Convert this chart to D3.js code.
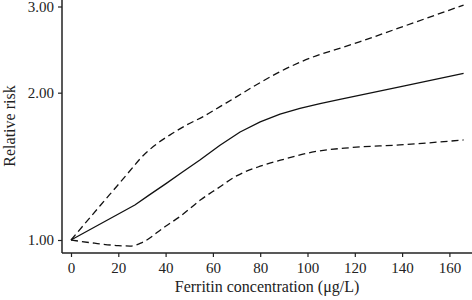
<!DOCTYPE html>
<html><head><meta charset="utf-8">
<script src="https://cdn.jsdelivr.net/npm/d3@7"></script>
<style>html,body{margin:0;padding:0;background:#fff;} svg{display:block;}</style>
</head><body>
<svg id="c" width="472" height="300"></svg>
<script>
const xTicks = [0, 20, 40, 60, 80, 100, 120, 140, 160];
const yTicks = [1, 2, 3];
const rrX = [0, 27, 33, 40, 47, 54.5, 63, 71.5, 80, 88.4, 96.8, 105.3, 113.7, 140, 166];
const rrY = [1.0, 1.179, 1.235, 1.302, 1.375, 1.457, 1.562, 1.662, 1.743, 1.808, 1.857, 1.90, 1.937, 2.06, 2.19];
const upX = [0, 12.3, 20.7, 26.3, 29.2, 34.8, 41.9, 48.9, 55.9, 63, 70.1, 77.1, 87, 97, 122, 145, 166];
const upY = [1.0, 1.175, 1.31, 1.41, 1.465, 1.552, 1.640, 1.718, 1.787, 1.873, 1.963, 2.058, 2.19, 2.31, 2.54, 2.78, 3.02];
const loX = [0, 10, 20, 25, 30, 40, 46, 55, 62, 70, 80, 90, 103, 118, 139, 166];
const loY = [1.0, 0.985, 0.974, 0.972, 0.988, 1.067, 1.116, 1.21, 1.275, 1.352, 1.415, 1.462, 1.515, 1.544, 1.564, 1.601];

const svg = d3.select("#c");
const font = "'Liberation Serif','Times New Roman',serif";
const x = d3.scaleLinear().domain([0, 160]).range([71, 449.4]);
const y = d3.scaleLog().domain([1, 3]).range([240, 6.5]);
const left = 62, bottom = 253;

const gx = svg.append("g").attr("transform", `translate(0,${bottom})`)
  .call(d3.axisBottom(x).tickValues(xTicks).tickSize(4).tickPadding(5).tickFormat(d3.format("d")));
gx.select(".domain").remove();
const gy = svg.append("g").attr("transform", `translate(${left},0)`)
  .call(d3.axisLeft(y).tickValues(yTicks).tickSize(4).tickPadding(4).tickFormat(d3.format(".2f")));
gy.select(".domain").remove();
svg.selectAll(".tick line").attr("stroke", "#222").attr("stroke-width", 1.2);
svg.selectAll(".tick text").attr("font-family", font).attr("font-size", 15).attr("fill", "#222");

svg.append("line").attr("x1", left).attr("x2", left).attr("y1", 0).attr("y2", bottom)
  .attr("stroke", "#222").attr("stroke-width", 1.5);
svg.append("line").attr("x1", left).attr("x2", 472).attr("y1", bottom).attr("y2", bottom)
  .attr("stroke", "#222").attr("stroke-width", 1.5);

const smooth = d3.line().x(d => x(d[0])).y(d => y(d[1])).curve(d3.curveMonotoneX);
const straight = d3.line().x(d => x(d[0])).y(d => y(d[1])).curve(d3.curveLinear);
const mk = (xs, ys) => xs.map((v, i) => [v, ys[i]]);
svg.append("path").attr("d", smooth(mk(upX, upY))).attr("fill", "none").attr("stroke", "#111")
  .attr("stroke-width", 1.3).attr("stroke-dasharray", "7,4");
svg.append("path").attr("d", smooth(mk(loX, loY))).attr("fill", "none").attr("stroke", "#111")
  .attr("stroke-width", 1.3).attr("stroke-dasharray", "7,4");
svg.append("path").attr("d", straight(mk(rrX, rrY))).attr("fill", "none").attr("stroke", "#111")
  .attr("stroke-width", 1.3).attr("stroke-linejoin", "round");

svg.append("text").attr("x", 267).attr("y", 292).attr("text-anchor", "middle")
  .attr("font-family", font).attr("font-size", 16).attr("fill", "#222")
  .text("Ferritin concentration (μg/L)");
svg.append("text").attr("transform", "translate(15,126) rotate(-90)").attr("text-anchor", "middle")
  .attr("font-family", font).attr("font-size", 16).attr("fill", "#222")
  .text("Relative risk");
</script>
</body></html>
